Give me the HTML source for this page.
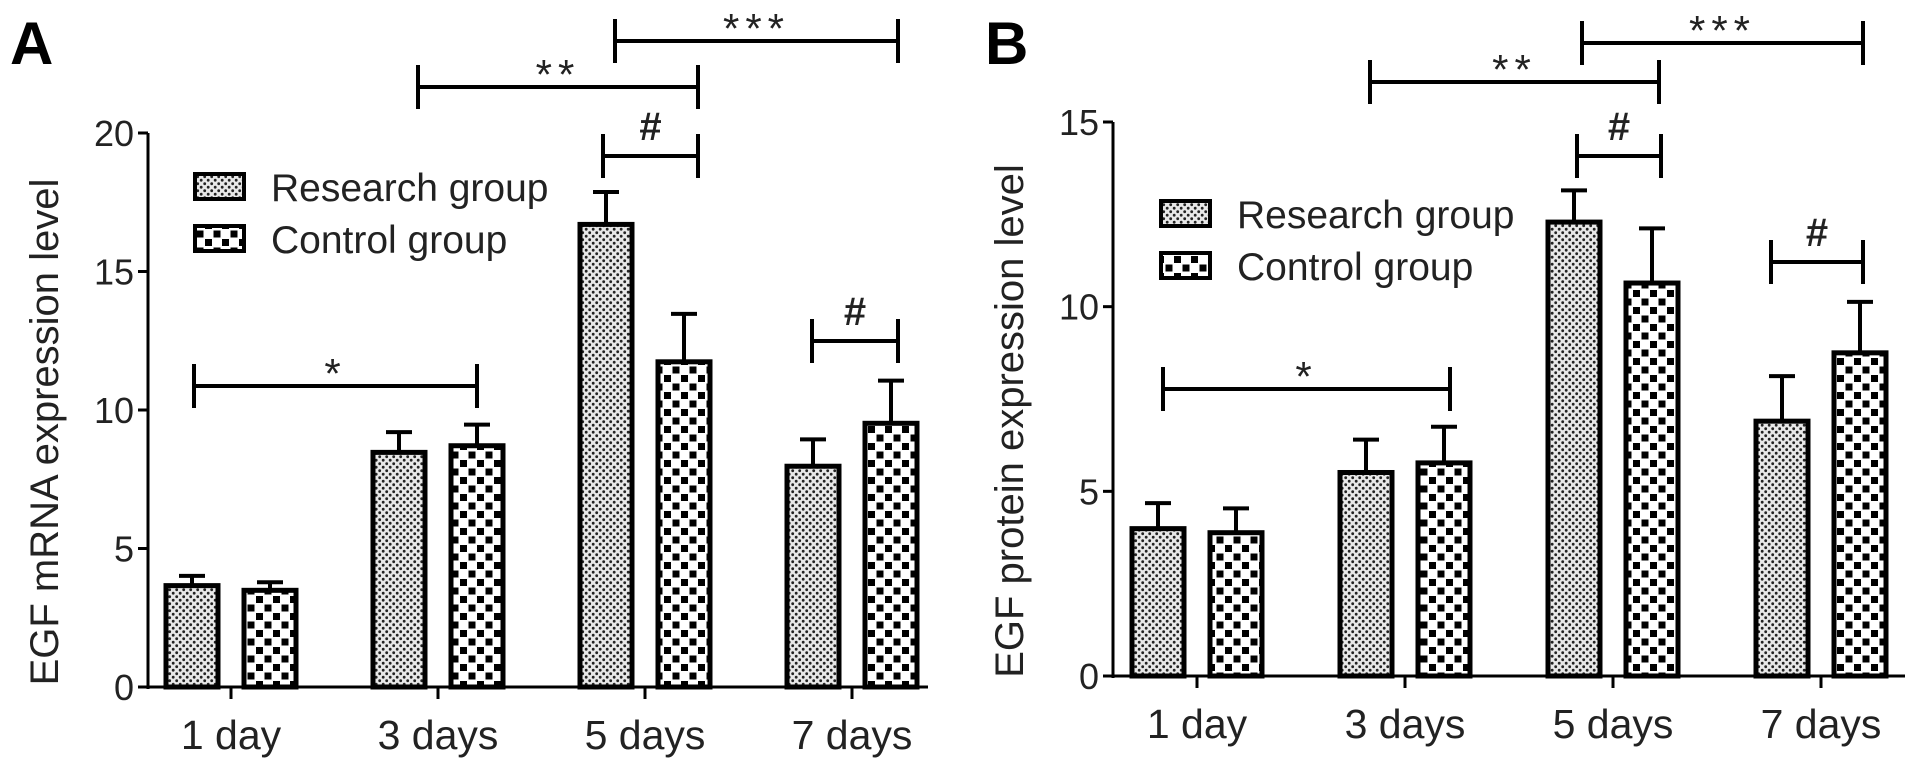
<!DOCTYPE html>
<html><head><meta charset="utf-8">
<style>
html,body{margin:0;padding:0;background:#fff;}
svg{display:block;font-family:"Liberation Sans",Arial,sans-serif;}
</style></head>
<body>
<svg id="chart" width="1913" height="763" viewBox="0 0 1913 763" xmlns="http://www.w3.org/2000/svg">
<defs>
<pattern id="patR" width="7" height="7" patternUnits="userSpaceOnUse">
<rect width="7" height="7" fill="#e8e8e8"/>
<circle cx="1.7" cy="1.7" r="1.4" fill="#222"/>
<circle cx="5.2" cy="5.2" r="1.4" fill="#222"/>
</pattern>
<pattern id="patC" width="17" height="17" patternUnits="userSpaceOnUse">
<rect width="17" height="17" fill="#fff"/>
<rect x="1" y="1" width="7" height="7" fill="#000"/>
<rect x="9.5" y="9.5" width="7" height="7" fill="#000"/>
</pattern>
</defs>
</svg>
<script>
const categories = ["1 day","3 days","5 days","7 days"];
const seriesNames = ["Research group","Control group"];
const mrnaResearch = [3.66,8.47,16.7,7.97];
const mrnaResearchErr = [0.35,0.73,1.17,0.97];
const mrnaControl = [3.49,8.71,11.74,9.52];
const mrnaControlErr = [0.29,0.76,1.73,1.54];
const proteinResearch = [3.99,5.51,12.29,6.9];
const proteinResearchErr = [0.69,0.89,0.86,1.22];
const proteinControl = [3.88,5.77,10.64,8.75];
const proteinControlErr = [0.66,0.98,1.48,1.38];
const mrnaTicks = [0,5,10,15,20];
const proteinTicks = [0,5,10,15];

const NS = "http://www.w3.org/2000/svg";
const svg = document.getElementById('chart');
function mk(tag, attrs, parent, text){
  const e = document.createElementNS(NS, tag);
  for (const k in attrs) e.setAttribute(k, attrs[k]);
  if (text !== undefined) e.textContent = text;
  (parent||svg).appendChild(e);
  return e;
}

function panel(cfg){
  const g = mk('g', {});
  
  
  const y = v => cfg.y0 - (v/cfg.yMax)*(cfg.y0-cfg.yTop);
  const x = i => cfg.ticksX[0] + i*(cfg.ticksX[1]-cfg.ticksX[0]);
  const L = mk('text', {x:cfg.letterX, y:64, 'font-size':60, 'font-weight':'bold'}, g, cfg.letter);
  
  
  const ya = mk('line', {x1:cfg.axisX, y1:y(cfg.ticks[cfg.ticks.length-1]), x2:cfg.axisX, y2:cfg.y0+2, stroke:'#000','stroke-width':3}, g);
  
  
  cfg.ticks.forEach(t=>{
    mk('line', {x1:cfg.axisX-10, y1:y(t), x2:cfg.axisX, y2:y(t), stroke:'#000','stroke-width':3}, g);
    const tl = mk('text', {x:cfg.axisX-14, y:y(t)+13, 'font-size':36, 'text-anchor':'end', fill:'#222'}, g, String(t));
    
    
  });
  const yt = mk('text', {transform:`translate(${cfg.axisX-90},${(cfg.y0+cfg.yTop)/2+22}) rotate(-90)`, 'font-size':40, 'text-anchor':'middle', fill:'#222'}, g, cfg.yTitle);
  
  
  const xa = mk('line', {x1:cfg.axisX, y1:cfg.y0, x2:cfg.axisEnd, y2:cfg.y0, stroke:'#000','stroke-width':3}, g);
  
  
  categories.forEach((c,i)=>{
    mk('line', {x1:x(i), y1:cfg.y0, x2:x(i), y2:cfg.y0+12, stroke:'#000','stroke-width':3}, g);
    const xl = mk('text', {x:x(i), y:cfg.y0+62, 'font-size':41, 'text-anchor':'middle', fill:'#222'}, g, c);
    
    
  });
  const bw = 52;
  [[cfg.r, cfg.rErr, 'url(#patR)', -39, 'research'], [cfg.c, cfg.cErr, 'url(#patC)', 39, 'control']].forEach(s=>{
    s[0].forEach((v,i)=>{
      const cx = x(i)+s[3];
      const top = y(v), et = y(v+s[1][i]);
      const eb = mk('g', {}, g);
      
      
      mk('line', {x1:cx, y1:top, x2:cx, y2:et, stroke:'#000','stroke-width':4}, eb);
      mk('line', {x1:cx-13, y1:et, x2:cx+13, y2:et, stroke:'#000','stroke-width':4}, eb);
      const b = mk('rect', {x:cx-bw/2, y:top, width:bw, height:cfg.y0-top, fill:s[2], stroke:'#000','stroke-width':5}, g);
      
      
    });
  });
  const lg = mk('g', {}, g);
  
  
  [['url(#patR)',0],['url(#patC)',1]].forEach(l=>{
    const yy = cfg.legY + l[1]*cfg.legGap;
    const le = mk('g', {}, lg);
    
    
    mk('rect', {x:cfg.legX, y:yy, width:49, height:25, fill:l[0], stroke:'#000','stroke-width':4}, le);
    mk('text', {x:cfg.legX+76, y:yy+27, 'font-size':39, fill:'#222'}, le, seriesNames[l[1]]);
  });
  cfg.sig.forEach(s=>{
    const sg = mk('g', {}, g);
    
    
    mk('line', {x1:s[0], y1:s[2], x2:s[1], y2:s[2], stroke:'#000','stroke-width':4}, sg);
    mk('line', {x1:s[0], y1:s[2]-22, x2:s[0], y2:s[2]+22, stroke:'#000','stroke-width':4}, sg);
    mk('line', {x1:s[1], y1:s[2]-22, x2:s[1], y2:s[2]+22, stroke:'#000','stroke-width':4}, sg);
    const isHash = s[3]==='#';
    mk('text', {x:(s[0]+s[1])/2, y:isHash? s[2]-16 : s[2]+2, 'font-size':isHash?40:42, 'font-weight':isHash?'bold':'normal', 'text-anchor':'middle', fill:'#222', 'letter-spacing':isHash?0:6}, sg, s[3]);
  });
}

panel({name:'panel-a-mrna', letter:'A', letterX:10, axisX:148, axisEnd:928, y0:687, yTop:133, yMax:20,
  ticks:mrnaTicks, ticksX:[231,438], yTitle:'EGF mRNA expression level',
  r:mrnaResearch, rErr:mrnaResearchErr, c:mrnaControl, cErr:mrnaControlErr,
  legX:195, legY:174, legGap:52,
  sig:[[194,477,386,'*'],[418,698,87,'**'],[615,898,41,'***'],[603,698,156,'#'],[812,898,341,'#']]});

panel({name:'panel-b-protein', letter:'B', letterX:985, axisX:1113, axisEnd:1905, y0:676, yTop:122, yMax:15,
  ticks:proteinTicks, ticksX:[1197,1405], yTitle:'EGF protein expression level',
  r:proteinResearch, rErr:proteinResearchErr, c:proteinControl, cErr:proteinControlErr,
  legX:1161, legY:201, legGap:52,
  sig:[[1163,1450,389,'*'],[1370,1659,82,'**'],[1582,1863,43,'***'],[1577,1661,156,'#'],[1771,1863,262,'#']]});
</script>
</body></html>
